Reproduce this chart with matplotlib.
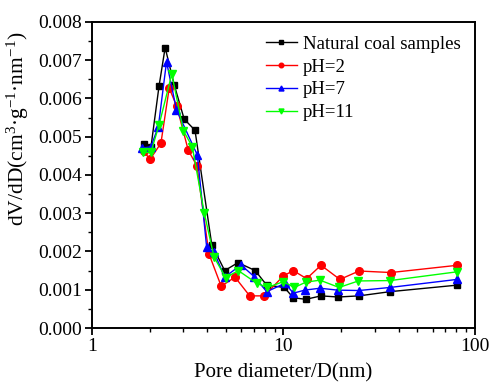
import matplotlib
matplotlib.use("Agg")
import matplotlib.pyplot as plt
from matplotlib.ticker import FormatStrFormatter, MultipleLocator, LogLocator, NullFormatter

plt.rcParams['font.family'] = ['Liberation Serif', 'DejaVu Serif']
plt.rcParams['mathtext.fontset'] = 'custom'
plt.rcParams['mathtext.rm'] = 'Liberation Serif'
plt.rcParams['mathtext.it'] = 'Liberation Serif:italic'

# natural coal
d_nat = [1.86, 2.03, 2.24, 2.41, 2.69, 3.03, 3.45, 4.22, 4.93, 5.79, 7.12, 8.17,
         10.1, 11.25, 13.1, 15.7, 19.3, 24.8, 36.0, 80.5]
v_nat = [0.00481, 0.00472, 0.00633, 0.00733, 0.00635, 0.00546, 0.00517, 0.00218,
         0.00150, 0.00171, 0.00150, 0.00112, 0.00106, 0.00079, 0.00075, 0.00084,
         0.00081, 0.00084, 0.00095, 0.00112]

# pH=2
d_ph2 = [1.86, 2.01, 2.29, 2.53, 2.77, 3.18, 3.53, 4.08, 4.73, 5.58, 6.66, 7.94,
         9.97, 11.25, 13.2, 15.7, 19.7, 24.8, 36.4, 81.0]
v_ph2 = [0.00462, 0.00441, 0.00483, 0.00627, 0.00580, 0.00465, 0.00424, 0.00194,
         0.00109, 0.00133, 0.00084, 0.00084, 0.00136, 0.00150, 0.00129, 0.00164,
         0.00127, 0.00149, 0.00145, 0.00164]

# pH=7
d_ph7 = [1.82, 2.03, 2.22, 2.45, 2.76, 3.55, 3.97, 4.34, 4.93, 6.0, 7.04, 8.17,
         10.2, 11.25, 12.9, 15.5, 19.2, 24.8, 36.0, 80.5]
v_ph7 = [0.00470, 0.00474, 0.00526, 0.00696, 0.00571, 0.00452, 0.00211, 0.00198,
         0.00133, 0.00165, 0.00134, 0.00095, 0.00117, 0.00091, 0.00099, 0.00104,
         0.00099, 0.00098, 0.00106, 0.00127]

# pH=11
d_ph11 = [1.85, 2.03, 2.24, 2.61, 3.0, 3.34, 3.86, 4.34, 4.99, 5.81, 7.25, 8.23,
          9.97, 11.4, 13.1, 15.5, 19.5, 24.6, 36.0, 80.9]
v_ph11 = [0.00459, 0.00459, 0.00531, 0.00664, 0.00516, 0.00474, 0.00300, 0.00185,
          0.00132, 0.00150, 0.00117, 0.00106, 0.00121, 0.00106, 0.00120, 0.00125,
          0.00106, 0.00123, 0.00124, 0.00147]

fig = plt.figure(figsize=(4.93, 3.83), dpi=100)
ax = fig.add_axes([0.1866, 0.1436, 0.7769, 0.799])

ax.plot(d_nat, v_nat, '-s', color='black', lw=1, ms=5, label='Natural coal samples')
ax.plot(d_ph2, v_ph2, '-o', color='#ff0000', lw=1, ms=5.5, label='pH=2')
ax.plot(d_ph7, v_ph7, '-^', color='#0000ff', lw=1, ms=6, label='pH=7')
ax.plot(d_ph11, v_ph11, '-v', color='#00ff00', lw=1, ms=6, label='pH=11')

ax.set_xscale('log')
ax.set_xlim(1, 100)
ax.set_ylim(0, 0.008)
ax.yaxis.set_major_locator(MultipleLocator(0.001))
ax.yaxis.set_minor_locator(MultipleLocator(0.0005))
ax.yaxis.set_major_formatter(FormatStrFormatter('%.3f'))
ax.xaxis.set_major_locator(LogLocator(base=10))
ax.xaxis.set_minor_locator(LogLocator(base=10, subs=range(2, 10)))
ax.xaxis.set_minor_formatter(NullFormatter())
ax.xaxis.set_major_formatter(FormatStrFormatter('%g'))

for s in ax.spines.values():
    s.set_linewidth(1.4)
ax.tick_params(which='major', direction='out', length=5, width=1.3, labelsize=14,
               pad=2, top=False, right=False)
ax.tick_params(which='minor', direction='out', length=3, width=1.0,
               top=False, right=False)

ax.set_xlabel('Pore diameter/D(nm)', fontsize=15, labelpad=6)
ax.set_ylabel('dV/dD(cm$^{3}$·g$^{-1}$·nm$^{-1}$)', fontsize=15.5)
ax.yaxis.set_label_coords(-0.16, 0.65)

leg = ax.legend(loc='upper left', bbox_to_anchor=(0.454, 0.956), frameon=False,
                fontsize=13.5, markerscale=0.6, handlelength=1.65,
                handletextpad=0.32, labelspacing=0.31, borderpad=0,
                borderaxespad=0)

fig.savefig('out.png', dpi=100)
